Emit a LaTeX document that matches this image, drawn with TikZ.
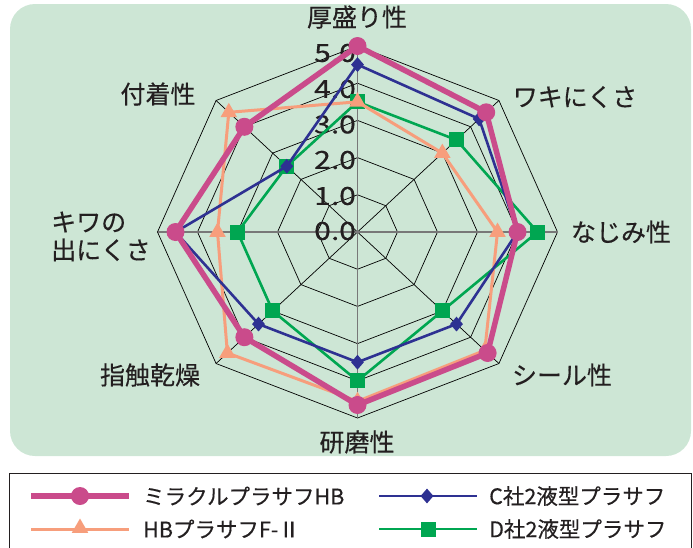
\documentclass[tikz,border=0pt]{standalone}
\usepackage{fontspec}
\usepackage{graphicx}
\setmainfont{Noto Sans CJK JP}[FakeBold=0.35,AutoFakeBold=0.35]
\usetikzlibrary{shapes.geometric}
\definecolor{bgg}{RGB}{205,230,213}
\definecolor{txt}{RGB}{35,31,32}
\definecolor{pk}{RGB}{202,75,139}
\definecolor{bl}{RGB}{46,49,146}
\definecolor{og}{RGB}{247,158,124}
\definecolor{gr}{RGB}{0,166,81}
\definecolor{axg}{RGB}{120,120,120}
\tikzset{
  ring/.style={draw=black, line width=0.7pt},
  mainaxis/.style={draw=axg, line width=1.8pt},
  diagaxis/.style={draw=black, line width=0.7pt},
  lab/.style={text=txt, font=\fontsize{25}{28}\selectfont\bfseries, inner sep=0pt},
  leg/.style={text=txt, font=\fontsize{21.5}{24}\selectfont\bfseries, inner sep=0pt, anchor=west},
  scl/.style={text=txt, font=\fontsize{25}{27}\selectfont\bfseries, inner sep=0pt, anchor=east},
  pkline/.style={draw=pk, line width=5.5pt, line join=round},
  blline/.style={draw=bl, line width=2.6pt, line join=round},
  ogline/.style={draw=og, line width=3pt, line join=round},
  grline/.style={draw=gr, line width=2.6pt, line join=round},
  pkmark/.style={circle, fill=pk, inner sep=0pt, minimum size=18pt},
  blmark/.style={diamond, fill=bl, inner sep=0pt, minimum width=13pt, minimum height=15pt},
  ogmark/.style={regular polygon, regular polygon sides=3, fill=og, inner sep=0pt, minimum size=19pt},
  grmark/.style={rectangle, fill=gr, inner sep=0pt, minimum size=15pt}
}
\begin{document}
\begin{tikzpicture}[x=1pt,y=-1pt]
\useasboundingbox (0,0) rectangle (693,547);
\fill[bgg, rounded corners=25pt] (10,4) rectangle (691,456);
\draw[draw=txt, line width=1.3pt] (9.5,473.5) rectangle (691.5,580);

% radar grid
\begin{scope}[shift={(357.5,232)}, x=40pt, y=37.2pt]
  \foreach \k in {1,...,5} {
    \draw[ring] (0:\k) -- (45:\k) -- (90:\k) -- (135:\k) -- (180:\k) -- (225:\k) -- (270:\k) -- (315:\k) -- cycle;
  }
  \foreach \a in {45,135,225,315} \draw[diagaxis] (0,0) -- (\a:5);
  \draw[mainaxis] (180:5) -- (0:5);
  \draw[mainaxis] (270:5) -- (90:5);
\end{scope}

% scale labels
\node[scl] (s0) at (356,231) {\scalebox{1.2}[1]{0.0}};
\node[scl] (s1) at (356,196) {\scalebox{1.2}[1]{1.0}};
\node[scl] (s2) at (356,160) {\scalebox{1.2}[1]{2.0}};
\node[scl] (s3) at (356,124.5) {\scalebox{1.2}[1]{3.0}};
\node[scl] (s4) at (356,89) {\scalebox{1.2}[1]{4.0}};
\node[scl] (s5) at (356,53) {\scalebox{1.2}[1]{5.0}};

% data
\begin{scope}[shift={(357.5,232)}, x=40pt, y=37.2pt]
  \foreach \a/\v [count=\i] in {90/3.5,45/3.5,0/4.5,-45/3.0,-90/4.0,-135/3.0,180/3.0,135/2.5}
    \coordinate (g\i) at (\a:\v);
  \foreach \a/\v [count=\i] in {90/3.5,45/3.0,0/3.5,-45/4.5,-90/4.55,-135/4.6,180/3.5,135/4.55}
    \coordinate (o\i) at (\a:\v);
  \foreach \a/\v [count=\i] in {90/4.5,45/4.3,0/4.0,-45/3.5,-90/3.5,-135/3.5,180/4.55,135/2.5}
    \coordinate (b\i) at (\a:\v);
  \foreach \a/\v [count=\i] in {90/5.0,45/4.55,0/4.0,-45/4.6,-90/4.65,-135/4.0,180/4.55,135/4.0}
    \coordinate (p\i) at (\a:\v);

  \draw[grline] (g1) -- (g2) -- (g3) -- (g4) -- (g5) -- (g6) -- (g7) -- (g8) -- cycle;
  \foreach \i in {1,...,8} \node[grmark] (gm\i) at (g\i) {};
  \draw[ogline] (o1) -- (o2) -- (o3) -- (o4) -- (o5) -- (o6) -- (o7) -- (o8) -- cycle;
  \foreach \i in {1,...,8} \node[ogmark] (om\i) at (o\i) {};
  \draw[blline] (b1) -- (b2) -- (b3) -- (b4) -- (b5) -- (b6) -- (b7) -- (b8) -- cycle;
  \foreach \i in {1,...,8} \node[blmark] (bm\i) at (b\i) {};
  \draw[pkline] (p1) -- (p2) -- (p3) -- (p4) -- (p5) -- (p6) -- (p7) -- (p8) -- cycle;
  \foreach \i in {1,...,8} \node[pkmark] (pm\i) at (p\i) {};
\end{scope}

% axis labels
\node[lab] (l1) at (357,17) {厚盛り性};
\node[lab] (l2) at (575,97) {ワキにくさ};
\node[lab] (l3) at (621,232) {なじみ性};
\node[lab] (l4) at (562,375) {シール性};
\node[lab] (l5) at (357,442) {研磨性};
\node[lab] (l6) at (150,375) {指触乾燥};
\node[lab, anchor=west, align=left] (l7) at (51,236.5) {キワの\\出にくさ};
\node[lab] (l8) at (158,94) {付着性};

% legend
\coordinate (lpa) at (31,496);  \coordinate (lpb) at (129,496);
\coordinate (loa) at (31,529);  \coordinate (lob) at (129,529);
\coordinate (lba) at (379,496); \coordinate (lbb) at (477,496);
\coordinate (lga) at (379,529); \coordinate (lgb) at (477,529);
\draw[pkline] (lpa) -- (lpb);
\node[pkmark] (lpm) at (80,496) {};
\draw[ogline] (loa) -- (lob);
\node[ogmark] (lom) at (80,528) {};
\draw[blline] (lba) -- (lbb);
\node[blmark] (lbm) at (427,496) {};
\draw[grline] (lga) -- (lgb);
\node[grmark] (lgm) at (428,529) {};
\node[leg] (t1) at (143,496) {ミラクルプラサフHB};
\node[leg] (t2) at (143,529) {HBプラサフF-Ⅱ};
\node[leg] (t3) at (489,496) {C社2液型プラサフ};
\node[leg] (t4) at (489,529) {D社2液型プラサフ};
\end{tikzpicture}
\end{document}
